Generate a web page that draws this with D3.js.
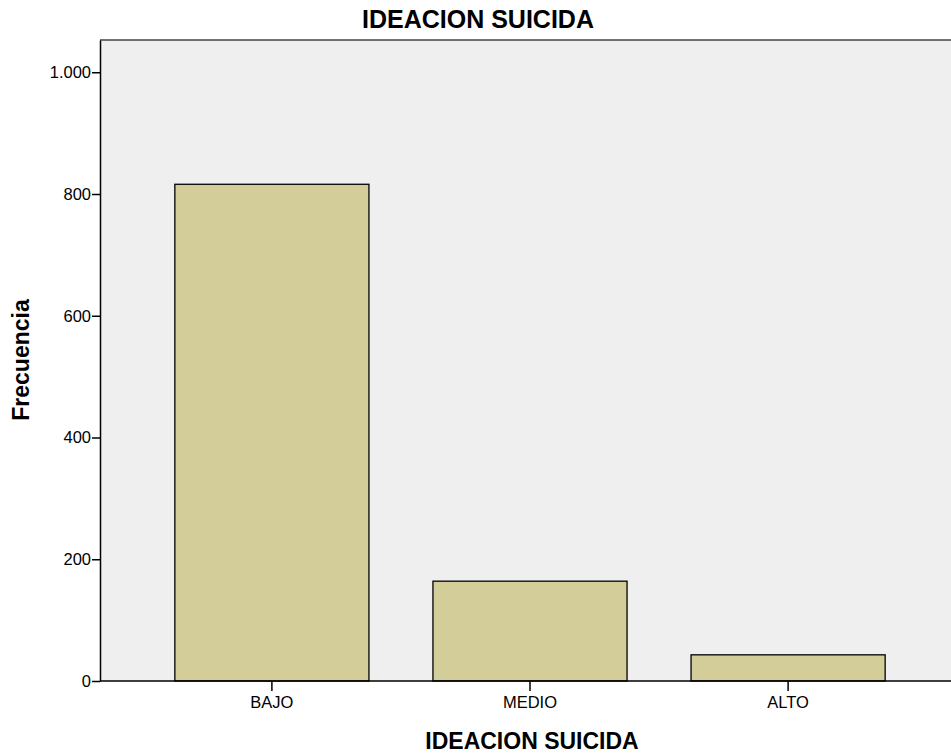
<!DOCTYPE html>
<html>
<head>
<meta charset="utf-8">
<script src="https://cdn.jsdelivr.net/npm/d3@7"></script>
<style>
  body { margin: 0; background: #fff; }
  text { font-family: "Liberation Sans", Arial, sans-serif; }
</style>
</head>
<body>
<div id="frame"></div>
<script>
// data
let categories = ["BAJO", "MEDIO", "ALTO"];
let counts = [816, 164, 43];
let yTicks = [0, 200, 400, 600, 800, 1000];

let W = 951, H = 753;
let margin = { top: 40, left: 100, bottom: 72 };
let plotRight = 960;

let svg = d3.select('#frame')
    .append('svg')
    .attr('width', W)
    .attr('height', H);

let x = d3.scaleBand()
    .domain(categories)
    .range([margin.left, plotRight])
    .paddingInner(0.248)
    .paddingOuter(0.29);

let y = d3.scaleLinear()
    .domain([0, 1053])
    .range([H - margin.bottom, margin.top]);

// plot background
svg.append('rect')
    .attr('x', margin.left)
    .attr('y', margin.top)
    .attr('width', plotRight - margin.left)
    .attr('height', y(0) - margin.top)
    .attr('fill', '#efefef');

// top border
svg.append('line')
    .attr('x1', margin.left).attr('x2', W)
    .attr('y1', margin.top).attr('y2', margin.top)
    .attr('stroke', '#444').attr('stroke-width', 1.5);

// bars
svg.selectAll('rect.bar')
    .data(counts)
    .enter()
    .append('rect')
    .attr('class', 'bar')
    .attr('x', (d, i) => x(categories[i]))
    .attr('y', d => y(d))
    .attr('width', x.bandwidth())
    .attr('height', d => y(0) - y(d))
    .attr('fill', '#d3ce99')
    .attr('stroke', '#000')
    .attr('stroke-width', 1.3);

let fmt = d => d >= 1000 ? d3.format(',')(d).replace(',', '.') : d;

// y axis
let gy = svg.append('g')
    .attr('transform', 'translate(' + margin.left + ',0)')
    .call(d3.axisLeft(y).tickValues(yTicks).tickFormat(fmt).tickSize(8).tickPadding(1).tickSizeOuter(0));
gy.select('.domain').attr('stroke', '#000').attr('stroke-width', 1.5);
gy.selectAll('.tick line').attr('stroke-width', 1.5);
gy.selectAll('text').style('font-size', '16.5px').attr('fill', '#000')
    .style('font-family', '"Liberation Sans", Arial, sans-serif');

// x axis
let gx = svg.append('g')
    .attr('transform', 'translate(0,' + y(0) + ')')
    .call(d3.axisBottom(x).tickSize(10).tickPadding(5).tickSizeOuter(0));
gx.select('.domain').attr('stroke', '#000').attr('stroke-width', 1.5)
    .attr('d', 'M' + margin.left + ',0H' + W);
gx.selectAll('.tick line').attr('stroke-width', 1.5);
gx.selectAll('text').style('font-size', '16.5px').attr('fill', '#000')
    .style('font-family', '"Liberation Sans", Arial, sans-serif');

// titles
svg.append('text')
    .attr('x', 478).attr('y', 28)
    .attr('text-anchor', 'middle')
    .style('font-size', '25px').style('font-weight', 'bold')
    .text('IDEACION SUICIDA');

svg.append('text')
    .attr('x', 532).attr('y', 749)
    .attr('text-anchor', 'middle')
    .style('font-size', '23px').style('font-weight', 'bold')
    .text('IDEACION SUICIDA');

svg.append('text')
    .attr('transform', 'translate(29,360) rotate(-90)')
    .attr('text-anchor', 'middle')
    .style('font-size', '23px').style('font-weight', 'bold')
    .text('Frecuencia');
</script>
</body>
</html>
